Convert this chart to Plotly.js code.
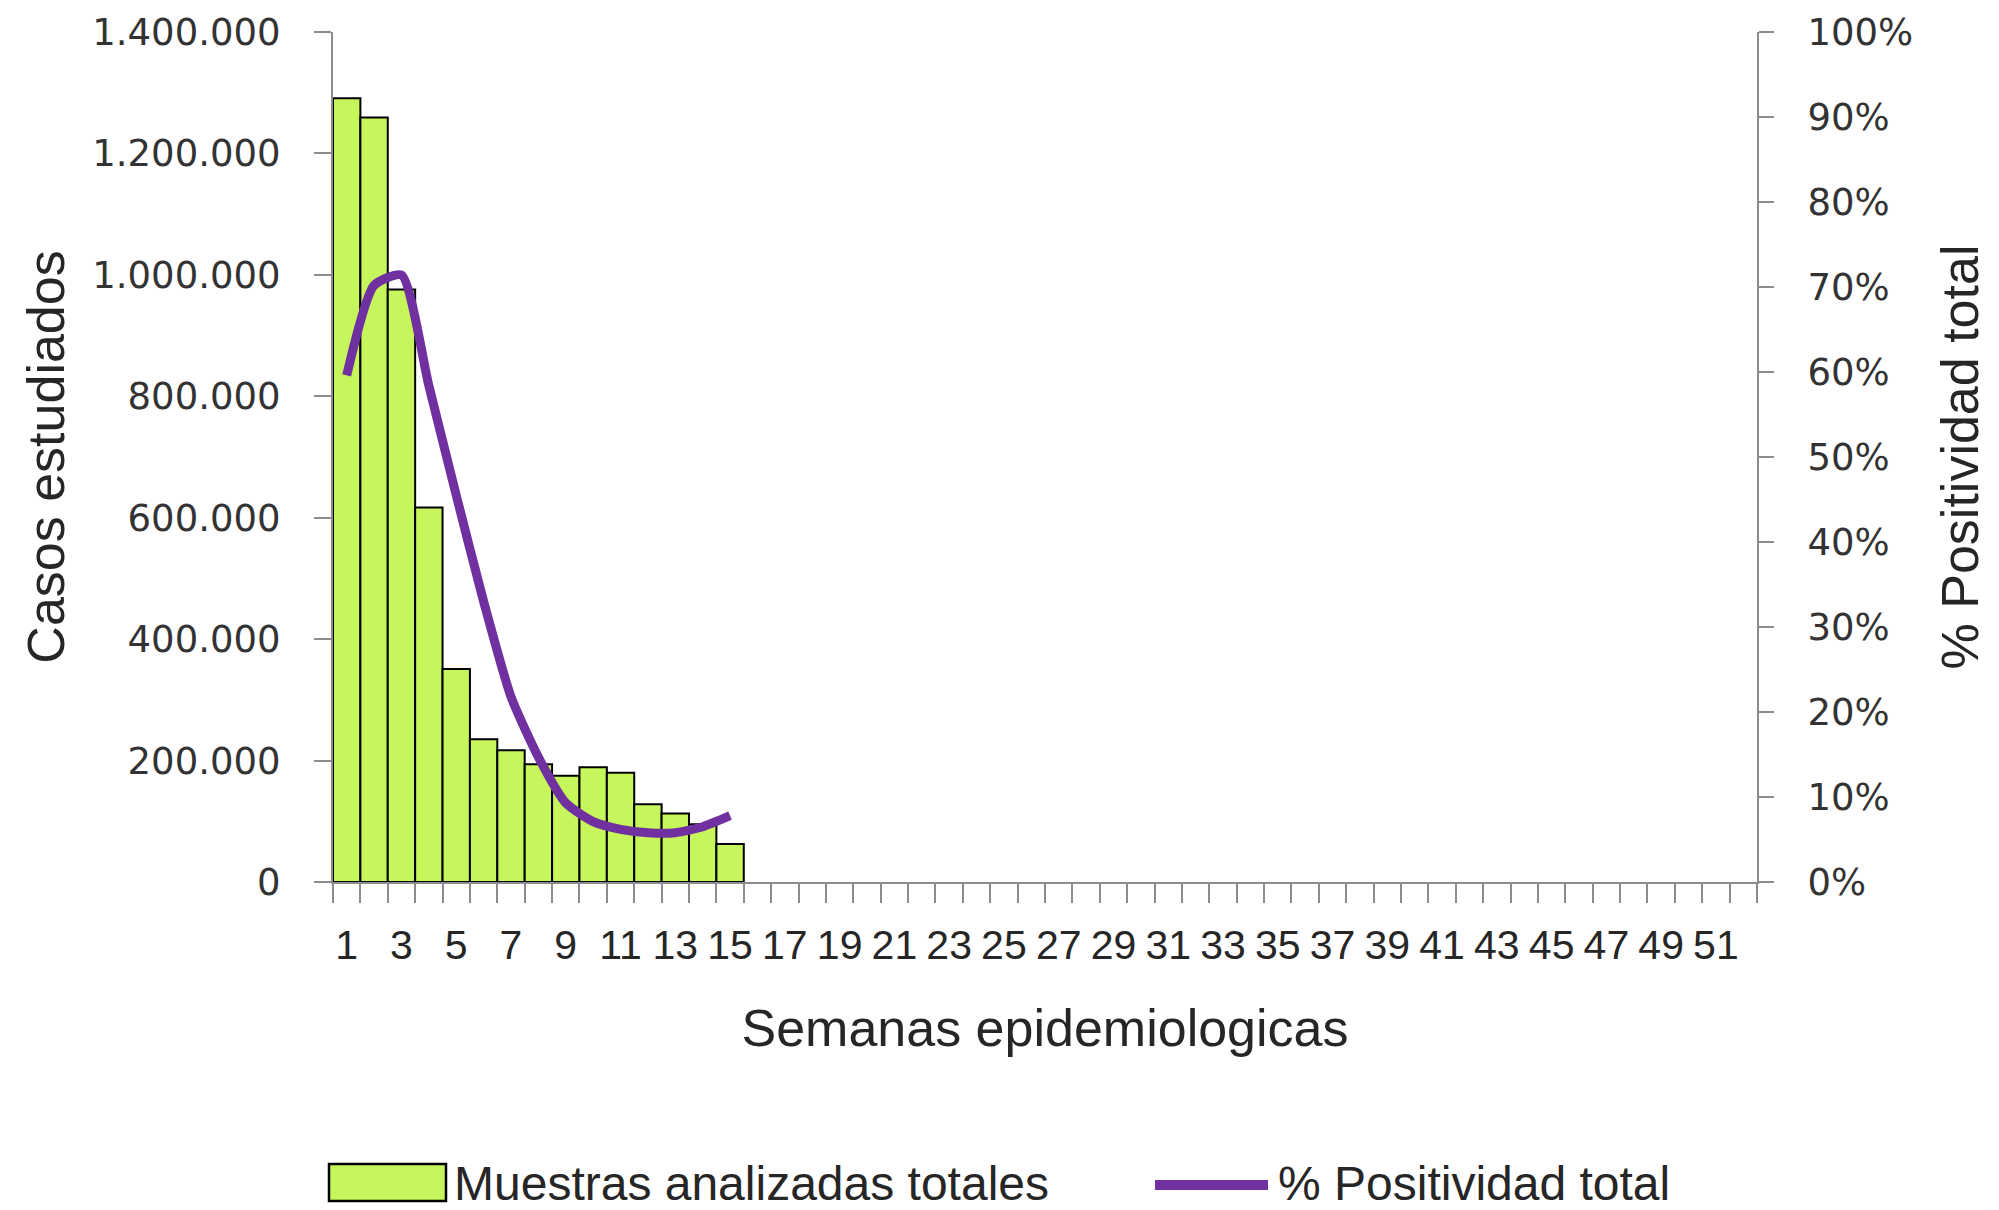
<!DOCTYPE html>
<html>
<head>
<meta charset="utf-8">
<script src="https://cdn.plot.ly/plotly-3.0.1.min.js"></script>
<style>
  html, body { margin: 0; padding: 0; background: #ffffff; }
  #chart { width: 1999px; height: 1210px; }
</style>
</head>
<body>
<div id="chart"></div>
<script>
// ---- data ----
const weeks = [1, 2, 3, 4, 5, 6, 7, 8, 9, 10, 11, 12, 13, 14, 15];
const muestrasTotales = [1291000, 1259000, 976000, 617000, 351000, 235000, 217000, 194000, 175000, 189000, 180000, 128000, 113000, 95000, 62500];
const positividadTotal = [59.6, 70.2, 71.4, 58.4, 45.5, 33.0, 21.8, 14.7, 9.3, 7.1, 6.2, 5.8, 5.8, 6.5, 7.8];
const weekTickVals = [1, 3, 5, 7, 9, 11, 13, 15, 17, 19, 21, 23, 25, 27, 29, 31, 33, 35, 37, 39, 41, 43, 45, 47, 49, 51];
const weekTickText = ["1", "3", "5", "7", "9", "11", "13", "15", "17", "19", "21", "23", "25", "27", "29", "31", "33", "35", "37", "39", "41", "43", "45", "47", "49", "51"];
const seriesNames = ["Muestras analizadas totales", "% Positividad total"];
const axisTitles = { x: "Semanas epidemiologicas", y: "Casos estudiados", y2: "% Positividad total" };

// ---- styles ----
const barColor = "#C6F65B";
const lineColor = "#7030A0";
const axisColor = "#8C8C8C";
const textColor = "#262626";
const titleFont = { family: "Liberation Sans, Arial, sans-serif", size: 52, color: textColor };
const yTickFont = { family: "DejaVu Sans, Verdana, sans-serif", size: 37, color: "#333333" };
const xTickFont = { family: "Liberation Sans, Arial, sans-serif", size: 41, color: textColor };
const legendFont = { family: "Liberation Sans, Arial, sans-serif", size: 48, color: textColor };

const W = 1999, H = 1210;
const M = { l: 333, r: 242, t: 32, b: 328 };
const PW = W - M.l - M.r, PH = H - M.t - M.b;
// pixel -> paper helpers for legend layout
const px = x => (x - M.l) / PW;
const py = y => (H - M.b - y) / PH;

const traces = [
  {
    type: "bar",
    name: seriesNames[0],
    x: weeks,
    y: muestrasTotales,
    width: 1,
    marker: { color: barColor, line: { color: "#000000", width: 2 } },
    yaxis: "y",
    showlegend: false,
    hoverinfo: "x+y"
  },
  {
    type: "scatter",
    mode: "lines",
    name: seriesNames[1],
    x: weeks,
    y: positividadTotal,
    line: { color: lineColor, width: 9, shape: "spline", smoothing: 0.6 },
    yaxis: "y2",
    showlegend: false
  }
];

const layout = {
  width: W,
  height: H,
  margin: M,
  paper_bgcolor: "#ffffff",
  plot_bgcolor: "#ffffff",
  separators: ",.",
  showlegend: false,
  bargap: 0,
  xaxis: {
    range: [0.5, 52.5],
    tickmode: "array",
    tickvals: weekTickVals,
    ticktext: weekTickText,
    ticks: "",
    ticklabelstandoff: 26,
    tickfont: xTickFont,
    showline: true,
    linecolor: axisColor,
    linewidth: 2,
    showgrid: false,
    zeroline: false,
    minor: { ticks: "outside", ticklen: 19, tickcolor: axisColor, tickwidth: 2, tick0: 0.5, dtick: 1, showgrid: false },
    title: { text: axisTitles.x, font: titleFont, standoff: 42 }
  },
  yaxis: {
    range: [0, 1400000],
    dtick: 200000,
    tick0: 0,
    tickformat: ",d",
    ticks: "outside",
    ticklen: 17,
    tickwidth: 2,
    tickcolor: axisColor,
    ticklabelstandoff: 26,
    tickfont: yTickFont,
    showline: true,
    linecolor: axisColor,
    linewidth: 2,
    showgrid: false,
    zeroline: false,
    title: { text: axisTitles.y, font: titleFont, standoff: 11 }
  },
  yaxis2: {
    overlaying: "y",
    side: "right",
    range: [0, 100],
    dtick: 10,
    tick0: 0,
    ticksuffix: "%",
    ticks: "outside",
    ticklen: 15,
    tickwidth: 2,
    tickcolor: axisColor,
    ticklabelstandoff: 26,
    tickfont: yTickFont,
    showline: true,
    linecolor: axisColor,
    linewidth: 2,
    showgrid: false,
    zeroline: false,
    title: { text: axisTitles.y2, font: titleFont, standoff: 29 }
  },
  shapes: [
    { type: "rect", xref: "paper", yref: "paper", x0: px(329), x1: px(446), y0: py(1201), y1: py(1164),
      fillcolor: barColor, line: { color: "#000000", width: 2.5 } },
    { type: "line", xref: "paper", yref: "paper", x0: px(1155), x1: px(1268), y0: py(1185), y1: py(1185),
      line: { color: lineColor, width: 10 } }
  ],
  annotations: [
    { xref: "paper", yref: "paper", x: px(452), y: py(1183), xanchor: "left", yanchor: "middle",
      text: seriesNames[0], showarrow: false, font: legendFont },
    { xref: "paper", yref: "paper", x: px(1276), y: py(1183), xanchor: "left", yanchor: "middle",
      text: seriesNames[1], showarrow: false, font: legendFont }
  ]
};

Plotly.newPlot("chart", traces, layout, { displayModeBar: false, staticPlot: true });
</script>
</body>
</html>
